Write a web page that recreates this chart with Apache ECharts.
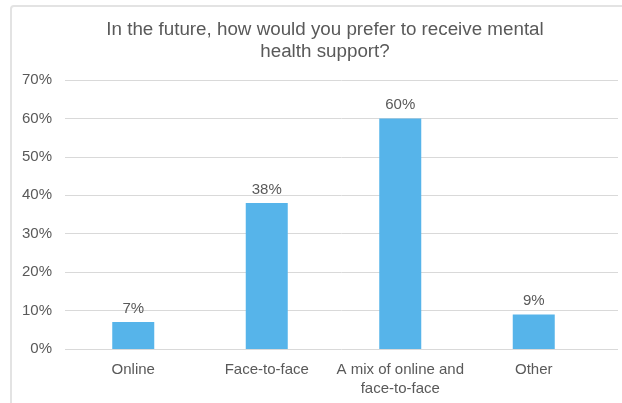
<!DOCTYPE html>
<html>
<head>
<meta charset="utf-8">
<script src="https://cdn.jsdelivr.net/npm/echarts@6/dist/echarts.min.js"></script>
<style>
  html, body { margin: 0; padding: 0; background: #fff; }
  #frame { position: absolute; left: 10px; top: 5px; width: 622px; height: 410px; border: 2px solid #e3e3e3; border-radius: 4px; box-sizing: border-box; }
  #chart { position: absolute; left: 0; top: 0; width: 622px; height: 403px; }
</style>
</head>
<body>
<div id="frame"></div>
<div id="chart"></div>
<script>
// Survey responses: preferred way to receive mental health support
const categories = ['Online', 'Face-to-face', 'A mix of online and\nface-to-face', 'Other'];
const shares = [7, 38, 60, 9];
const yTicks = [0, 10, 20, 30, 40, 50, 60, 70];

const textColor = '#595959';
const font = '"Liberation Sans", Arial, sans-serif';

const chart = echarts.init(document.getElementById('chart'), null, { renderer: 'canvas' });
chart.setOption({
  animation: false,
  title: {
    text: 'In the future, how would you prefer to receive mental\nhealth support?',
    left: 320,
    textAlign: 'center',
    top: 14,
    textStyle: { color: textColor, fontFamily: font, fontSize: 18.8, fontWeight: 'normal', lineHeight: 22 }
  },
  grid: [
    // gridlines and value labels
    { left: 65, right: 4, top: 80, bottom: 54 },
    // bars
    { left: 66.5, right: 21.5, top: 80, bottom: 54 }
  ],
  xAxis: [
    { gridIndex: 0, type: 'value', min: 0, max: 1, show: false },
    {
      gridIndex: 1, type: 'category', data: categories,
      axisLine: { show: false }, axisTick: { show: false },
      axisLabel: { color: textColor, fontFamily: font, fontSize: 15, margin: 11, lineHeight: 19, interval: 0 }
    }
  ],
  yAxis: [
    {
      gridIndex: 0, type: 'value', min: yTicks[0], max: yTicks[yTicks.length - 1], interval: 10,
      axisLine: { show: false }, axisTick: { show: false },
      splitLine: { lineStyle: { color: '#d9d9d9', width: 1 } },
      axisLabel: { color: textColor, fontFamily: font, fontSize: 15, margin: 13, formatter: v => v + '%' }
    },
    { gridIndex: 1, type: 'value', min: 0, max: 70, show: false }
  ],
  series: [{
    type: 'bar',
    xAxisIndex: 1, yAxisIndex: 1,
    data: shares,
    barWidth: 42,
    itemStyle: { color: '#56B4EA' },
    label: {
      show: true, position: 'top', distance: 6,
      color: textColor, fontFamily: font, fontSize: 15,
      formatter: p => p.value + '%'
    }
  }]
});
</script>
</body>
</html>
